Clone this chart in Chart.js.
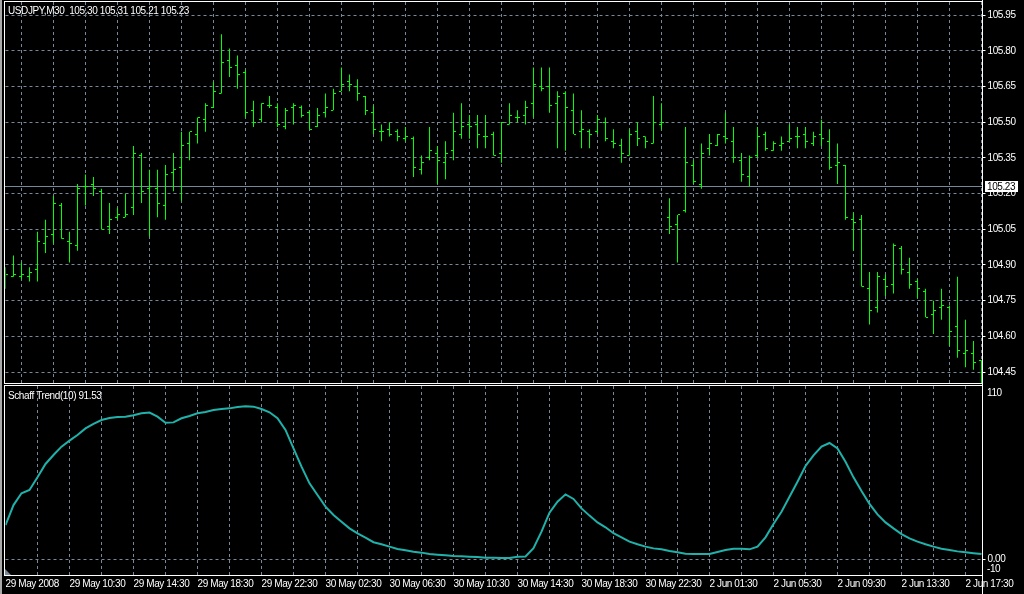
<!DOCTYPE html>
<html>
<head>
<meta charset="utf-8">
<script src="https://cdn.jsdelivr.net/npm/chart.js@4.4.1/dist/chart.umd.min.js"></script>
<style>
  html, body { margin: 0; padding: 0; background: #000; overflow: hidden; }
  #wrap { position: relative; width: 1024px; height: 594px; background: #000; }
  #priceBox { position: absolute; left: 0; top: 0; width: 1024px; height: 385px; }
  #stcBox { position: absolute; left: 0; top: 385px; width: 1024px; height: 209px; }
  #edge { position: absolute; left: 0; top: 0; width: 2px; height: 594px; background: #a8a8a8; }
</style>
</head>
<body>
<div id="wrap">
  <div id="priceBox"><canvas id="priceChart" width="1024" height="385"></canvas></div>
  <div id="stcBox"><canvas id="stcChart" width="1024" height="209"></canvas></div>
  <div id="edge"></div>
</div>
<script>
// ================== DATA ==================
const symbolTitle = 'USDJPY,M30  105.30 105.31 105.21 105.23';
const stcTitle = 'Schaff Trend(10) 91.53';
const bidPrice = 105.23;

// one label every 8 bars, starting at bar 0
const timeLabels = ['29 May 2008', '29 May 10:30', '29 May 14:30', '29 May 18:30', '29 May 22:30',
  '30 May 02:30', '30 May 06:30', '30 May 10:30', '30 May 14:30', '30 May 18:30', '30 May 22:30',
  '2 Jun 01:30', '2 Jun 05:30', '2 Jun 09:30', '2 Jun 13:30', '2 Jun 17:30'];

const priceTicks = [104.45, 104.60, 104.75, 104.90, 105.05, 105.20, 105.35, 105.50, 105.65, 105.80, 105.95];
const stcTicks = [0];

const opens = [104.85,104.85,104.85,104.85,104.88,104.99,105.03,105.15,105.00,104.98,
  105.23,105.24,105.21,105.06,105.10,105.10,105.14,105.36,105.22,105.22,
  105.15,105.29,105.31,105.41,105.45,105.51,105.56,105.62,105.76,105.74,
  105.71,105.55,105.51,105.57,105.56,105.48,105.56,105.56,105.54,105.48,
  105.54,105.55,105.63,105.67,105.65,105.61,105.54,105.46,105.47,105.46,
  105.43,105.43,105.30,105.35,105.37,105.33,105.38,105.45,105.49,105.49,
  105.44,105.45,105.37,105.49,105.52,105.53,105.58,105.65,105.65,105.58,
  105.62,105.55,105.46,105.46,105.46,105.50,105.42,105.40,105.36,105.46,
  105.44,105.41,105.49,105.10,105.07,105.13,105.32,105.24,105.39,105.40,
  105.44,105.42,105.34,105.27,105.36,105.45,105.38,105.40,105.42,105.44,
  105.45,105.41,105.45,105.42,105.32,105.32,105.09,105.09,104.80,104.72,
  104.84,104.82,104.97,104.87,104.83,104.79,104.69,104.72,104.72,104.64,
  104.53,104.53,104.50];

const highs = [104.89,104.94,104.91,104.89,105.04,105.09,105.19,105.16,105.04,105.24,
  105.28,105.27,105.22,105.16,105.14,105.20,105.40,105.37,105.30,105.30,
  105.32,105.37,105.46,105.46,105.52,105.58,105.67,105.87,105.81,105.78,
  105.72,105.59,105.58,105.61,105.58,105.56,105.58,105.57,105.55,105.56,
  105.62,105.64,105.73,105.70,105.68,105.61,105.57,105.49,105.50,105.47,
  105.48,105.44,105.36,105.48,105.40,105.42,105.54,105.58,105.53,105.53,
  105.53,105.46,105.50,105.58,105.55,105.59,105.73,105.73,105.73,105.63,
  105.63,105.62,105.55,105.47,105.53,105.52,105.47,105.43,105.47,105.50,
  105.44,105.61,105.58,105.18,105.11,105.48,105.34,105.41,105.45,105.45,
  105.54,105.48,105.37,105.36,105.48,105.46,105.42,105.44,105.49,105.48,
  105.48,105.46,105.51,105.47,105.41,105.32,105.12,105.11,104.87,104.87,
  104.86,104.99,104.98,104.93,104.84,104.80,104.75,104.80,104.73,104.85,
  104.67,104.58,104.50];

const lows = [104.80,104.85,104.84,104.83,104.83,104.95,104.99,105.01,104.91,104.96,
  105.15,105.19,105.05,105.03,105.09,105.10,105.11,105.16,105.02,105.10,
  105.09,105.21,105.17,105.34,105.41,105.46,105.56,105.62,105.69,105.64,
  105.52,105.48,105.50,105.56,105.48,105.47,105.49,105.52,105.47,105.48,
  105.52,105.55,105.63,105.63,105.59,105.53,105.45,105.42,105.44,105.42,
  105.42,105.27,105.28,105.34,105.24,105.26,105.34,105.43,105.43,105.39,
  105.39,105.36,105.33,105.49,105.50,105.49,105.52,105.63,105.54,105.39,
  105.38,105.45,105.39,105.39,105.45,105.42,105.39,105.33,105.36,105.40,
  105.39,105.41,105.47,105.03,104.91,105.12,105.24,105.22,105.36,105.40,
  105.41,105.33,105.25,105.23,105.35,105.38,105.38,105.38,105.42,105.39,
  105.39,105.40,105.40,105.30,105.24,105.09,104.96,104.81,104.65,104.70,
  104.77,104.78,104.86,104.80,104.76,104.68,104.61,104.67,104.56,104.51,
  104.47,104.46,104.38];

const closes = [104.86,104.86,104.86,104.87,105.00,105.02,105.16,105.01,104.99,105.22,
  105.23,105.22,105.05,105.09,105.11,105.11,105.37,105.21,105.23,105.16,
  105.28,105.30,105.40,105.46,105.52,105.57,105.63,105.75,105.73,105.70,
  105.54,105.50,105.58,105.57,105.49,105.55,105.57,105.53,105.47,105.53,
  105.56,105.62,105.66,105.66,105.62,105.55,105.47,105.46,105.45,105.44,
  105.44,105.31,105.33,105.38,105.34,105.37,105.46,105.48,105.48,105.45,
  105.44,105.36,105.50,105.53,105.52,105.56,105.66,105.64,105.57,105.61,
  105.56,105.45,105.47,105.45,105.51,105.43,105.41,105.37,105.45,105.43,
  105.42,105.50,105.50,105.06,105.11,105.33,105.25,105.37,105.41,105.45,
  105.43,105.35,105.28,105.35,105.44,105.39,105.41,105.41,105.43,105.44,
  105.42,105.44,105.43,105.31,105.33,105.10,105.08,104.81,104.71,104.85,
  104.81,104.98,104.88,104.82,104.80,104.68,104.71,104.73,104.62,104.54,
  104.54,104.49,104.41];

const stc = [21.7,34.4,41.9,44.0,52.0,60.5,66.2,71.5,75.3,78.9,
  83.1,85.9,88.4,89.7,90.3,90.5,91.4,92.7,93.1,90.5,
  86.7,86.9,89.5,91.0,92.7,93.5,94.8,95.4,95.8,96.7,
  97.1,96.9,95.4,93.3,89.5,82.1,70.4,58.8,48.2,40.8,
  33.4,28.1,23.8,19.6,16.4,13.7,10.8,9.5,8.0,6.5,
  5.7,4.8,4.2,3.3,2.9,2.5,2.1,1.9,1.6,1.4,
  1.0,1.0,0.8,0.8,1.6,1.8,7.0,17.5,29.6,36.5,
  41.2,38.3,32.3,27.7,23.4,20.3,16.5,13.9,11.2,9.5,
  8.0,6.9,6.3,5.2,4.4,3.5,3.3,3.3,3.3,4.6,
  5.9,6.7,6.7,6.3,8.0,13.9,22.4,30.2,39.7,49.2,
  59.2,66.0,71.5,73.8,70.4,61.9,52.0,43.3,35.1,28.5,
  23.4,19.6,16.0,13.3,11.2,9.5,8.0,6.7,5.9,5.0,
  4.4,3.8,3.3];

// ================== STYLE ==================
const FONT = "'Liberation Sans', Arial, sans-serif";
const FONT_SIZE = 10;
const LETTER_SPACING = '-0.4px';   // MT4's bitmap font is narrower than Arial
const GRID = '#778899';
const BAR_GREEN = '#00ff00';
const STC_COLOR = '#20b2aa';
const WHITE = '#ffffff';

const PRICE_MIN = 104.404;
const PRICE_MAX = 106.005;
const LAST_X = 122.125;      // a pixel past the last bar
const barIdx = opens.map((_, i) => i);
const gridBars = [];
for (let v = 4; v <= 120; v += 4) gridBars.push(v);

const noPad = s => { s.paddingLeft = 0; s.paddingRight = 0; s.paddingTop = 0; s.paddingBottom = 0; };

// ================== PLUGINS ==================
const narrowText = {
  id: 'narrowText',
  beforeUpdate(chart) { chart.ctx.letterSpacing = LETTER_SPACING; },
  beforeDraw(chart) { chart.ctx.letterSpacing = LETTER_SPACING; }
};

// open tick left, close tick right of each high-low bar
const ohlcTicks = {
  id: 'ohlcTicks',
  afterDatasetsDraw(chart) {
    const { ctx, chartArea: a } = chart;
    const y = chart.scales.y;
    const meta = chart.getDatasetMeta(0);
    ctx.save();
    ctx.beginPath();
    ctx.rect(a.left, a.top, a.right - a.left, a.bottom - a.top);
    ctx.clip();
    ctx.fillStyle = BAR_GREEN;
    meta.data.forEach((bar, i) => {
      const col = Math.round(bar.x - 0.5);
      ctx.fillRect(col - 2, Math.floor(y.getPixelForValue(opens[i])), 2, 1);
      ctx.fillRect(col + 1, Math.floor(y.getPixelForValue(closes[i])), 2, 1);
    });
    ctx.restore();
  }
};

const bidLine = {
  id: 'bidLine',
  beforeDatasetsDraw(chart) {
    const { ctx, chartArea: a } = chart;
    const row = Math.floor(chart.scales.y.getPixelForValue(bidPrice));
    ctx.save();
    ctx.fillStyle = GRID;
    ctx.fillRect(Math.floor(a.left) - 1, row, a.right - a.left + 1, 1);
    ctx.restore();
  },
  afterDraw(chart) {
    const { ctx, chartArea: a } = chart;
    const row = Math.floor(chart.scales.y.getPixelForValue(bidPrice));
    ctx.save();
    ctx.fillStyle = WHITE;
    ctx.fillRect(Math.floor(a.right) + 3, row - 5, 33, 11);
    ctx.fillStyle = '#000';
    ctx.font = `${FONT_SIZE}px ${FONT}`;
    ctx.textBaseline = 'middle';
    ctx.fillText(bidPrice.toFixed(2), Math.floor(a.right) + 5, row + 1);
    ctx.restore();
  }
};

function framePlugin(title, titleDrop, extra) {
  return {
    id: 'frame',
    afterDraw(chart) {
      const { ctx, chartArea: a } = chart;
      const l = Math.floor(a.left) - 1, r = Math.floor(a.right);
      const t = Math.ceil(a.top) - 1, b = Math.floor(a.bottom);
      ctx.save();
      ctx.fillStyle = WHITE;
      ctx.fillRect(l, t, r - l, 1);
      ctx.fillRect(l, b, r - l, 1);
      ctx.fillRect(l, t, 1, b - t + 1);
      ctx.fillRect(r, 0, 1, chart.height);
      ctx.font = `${FONT_SIZE}px ${FONT}`;
      ctx.textBaseline = 'alphabetic';
      ctx.fillText(title, 8, t + titleDrop);
      if (extra) extra(chart, ctx, l, b);
      ctx.restore();
    }
  };
}

// ================== PRICE PANEL ==================
new Chart(document.getElementById('priceChart'), {
  type: 'bar',
  data: {
    datasets: [{
      label: 'USDJPY',
      data: barIdx.map(i => ({ x: i, y: [lows[i], highs[i]] })),
      backgroundColor: BAR_GREEN,
      barThickness: 1,
      borderWidth: 0,
      inflateAmount: 0
    }]
  },
  options: {
    responsive: false,
    animation: false,
    devicePixelRatio: 1,
    layout: { padding: { left: 5.5, top: 2, right: 0, bottom: 2 } },
    plugins: { legend: { display: false }, tooltip: { enabled: false } },
    scales: {
      x: {
        type: 'linear', offset: false, min: 0, max: LAST_X,
        afterBuildTicks: s => { s.ticks = gridBars.map(v => ({ value: v })); },
        ticks: { display: false },
        grid: { color: GRID, drawTicks: false },
        border: { display: false, dash: [3, 3] },
        afterFit: s => { s.height = 0; noPad(s); }
      },
      y: {
        position: 'right', min: PRICE_MIN, max: PRICE_MAX,
        afterBuildTicks: s => { s.ticks = priceTicks.map(v => ({ value: v })); },
        ticks: { color: WHITE, font: { family: FONT, size: FONT_SIZE }, padding: 2,
                 callback: v => Number(v).toFixed(2) },
        grid: { color: GRID, tickLength: 3, tickColor: WHITE },
        border: { display: false, dash: [3, 3] },
        afterFit: s => { s.width = 41.5; noPad(s); }
      }
    }
  },
  plugins: [narrowText, bidLine, ohlcTicks, framePlugin(symbolTitle, 13)]
});

// ================== SCHAFF TREND PANEL ==================
new Chart(document.getElementById('stcChart'), {
  type: 'line',
  data: {
    datasets: [{
      label: 'Schaff Trend(10)',
      data: barIdx.map(i => ({ x: i, y: stc[i] })),
      borderColor: STC_COLOR,
      borderWidth: 2,
      pointRadius: 0,
      tension: 0,
      fill: false
    }]
  },
  options: {
    responsive: false,
    animation: false,
    devicePixelRatio: 1,
    layout: { padding: { left: 5.5, top: 1, right: 0, bottom: 0 } },
    plugins: { legend: { display: false }, tooltip: { enabled: false } },
    scales: {
      x: {
        type: 'linear', offset: false, min: 0, max: LAST_X,
        afterBuildTicks: s => { s.ticks = [0].concat(gridBars).map(v => ({ value: v })); },
        ticks: { color: WHITE, font: { family: FONT, size: FONT_SIZE }, padding: 3,
                 align: 'start', maxRotation: 0, autoSkip: false,
                 callback: v => (v % 8 === 0 ? timeLabels[v / 8] : '') },
        grid: { color: c => (c.tick && c.tick.value === 0 ? 'rgba(0,0,0,0)' : GRID), drawTicks: false },
        border: { display: false, dash: [3, 3] },
        afterFit: s => { s.height = 19; noPad(s); }
      },
      y: {
        position: 'right', min: -10, max: 110,
        afterBuildTicks: s => { s.ticks = stcTicks.map(v => ({ value: v })); },
        ticks: { color: WHITE, font: { family: FONT, size: FONT_SIZE }, padding: 2,
                 callback: v => Number(v).toFixed(2) },
        grid: { color: GRID, tickLength: 3, tickColor: WHITE },
        border: { display: false, dash: [3, 3] },
        afterFit: s => { s.width = 41.5; noPad(s); }
      }
    }
  },
  plugins: [narrowText, framePlugin(stcTitle, 14, (chart, ctx, l, b) => {
    // window max / min labels sit inside the panel edges
    const y = chart.scales.y;
    const x = Math.floor(chart.chartArea.right) + 5;
    ctx.textBaseline = 'middle';
    ctx.fillText('110', x, y.getPixelForValue(110) + 7);
    ctx.fillText('-10', x, y.getPixelForValue(-10) - 6);
    // small grey scroll marker in the bottom-left corner
    ctx.fillStyle = GRID;
    ctx.beginPath();
    ctx.moveTo(l + 1, b - 6);
    ctx.lineTo(l + 1, b);
    ctx.lineTo(l + 7, b);
    ctx.closePath();
    ctx.fill();
  })]
});
</script>
</body>
